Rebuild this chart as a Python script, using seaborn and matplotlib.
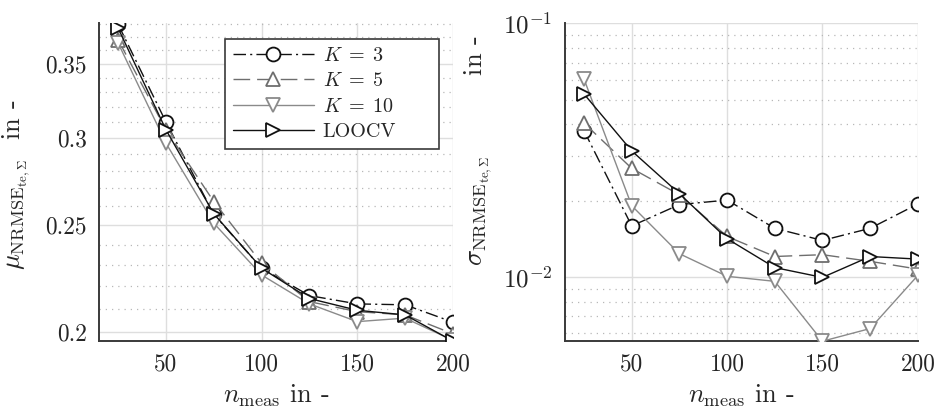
import numpy as np
import pandas as pd
import matplotlib
matplotlib.use("Agg")
import matplotlib.pyplot as plt
from matplotlib.ticker import FixedLocator, FixedFormatter, LogLocator, LogFormatterSciNotation, NullFormatter
import seaborn as sns

# Number of measurements
n_meas = [25, 50, 75, 100, 125, 150, 175, 200]

# Mean NRMSE over the test sets
mu_k3 = [0.380, 0.310, 0.2557, 0.2285, 0.2158, 0.2121, 0.2117, 0.2042]
mu_k5 = [0.368, 0.305, 0.2626, 0.2309, 0.2131, 0.2087, 0.2073, 0.1993]
mu_k10 = [0.3655, 0.2966, 0.2510, 0.2253, 0.2121, 0.2044, 0.2059, 0.1966]
mu_loocv = [0.377, 0.305, 0.2560, 0.2285, 0.2145, 0.2093, 0.2073, 0.1963]

# Standard deviation of NRMSE over the test sets
sd_k3 = [0.0377, 0.0159, 0.0193, 0.0201, 0.01556, 0.01394, 0.01556, 0.0194]
sd_k5 = [0.0404, 0.0268, 0.0211, 0.01445, 0.01205, 0.01225, 0.01153, 0.01075]
sd_k10 = [0.0602, 0.0191, 0.01236, 0.01007, 0.00962, 0.00559, 0.00627, 0.01015]
sd_loocv = [0.0526, 0.0314, 0.0213, 0.01416, 0.0109, 0.00997, 0.01205, 0.01177]

labels = [r"$K\;=\;3$", r"$K\;=\;5$", r"$K\;=\;10$", "LOOCV"]
mu_series = [mu_k3, mu_k5, mu_k10, mu_loocv]
sd_series = [sd_k3, sd_k5, sd_k10, sd_loocv]

styles = [
    dict(color="#111111", marker="o", linestyle=(0, (9, 3, 1.5, 3))),
    dict(color="#6e6e6e", marker="^", linestyle=(0, (12, 5))),
    dict(color="#8a8a8a", marker="v", linestyle="-"),
    dict(color="#111111", marker=">", linestyle="-"),
]

sns.set_style("white")
plt.rcParams.update({
    "font.family": "serif",
    "font.serif": ["cmr10", "DejaVu Serif"],
    "mathtext.fontset": "cm",
    "axes.unicode_minus": False,
    "axes.formatter.use_mathtext": True,
    "font.size": 16,
})

TICK_FS = 16.8
LABEL_FS = 19

fig = plt.figure(figsize=(9.36, 4.08), dpi=100)
ax1 = fig.add_axes([0.1058, 0.1642, 0.378, 0.779])
ax2 = fig.add_axes([0.6036, 0.1642, 0.377, 0.779])


def draw(ax, series):
    for lab, vals, st in zip(labels, series, styles):
        df = pd.DataFrame({"n": n_meas, "v": vals})
        sns.lineplot(data=df, x="n", y="v", ax=ax, label=lab,
                     color=st["color"], marker=st["marker"],
                     linestyle=st["linestyle"], linewidth=1.0,
                     markersize=10, markerfacecolor="white",
                     markeredgecolor=st["color"], markeredgewidth=1.3,
                     zorder=3)


draw(ax1, mu_series)
draw(ax2, sd_series)

for ax in (ax1, ax2):
    ax.set_yscale("log")
    ax.set_xlim(15, 200)
    ax.set_xticks([50, 100, 150, 200])
    ax.set_xticklabels(["50", "100", "150", "200"])
    ax.set_xlabel(r"$n_{\mathrm{meas}}$ in -", fontsize=LABEL_FS, labelpad=5)
    for side in ("top", "right"):
        ax.spines[side].set_visible(False)
    for side in ("left", "bottom"):
        ax.spines[side].set_color("#3a3a3a")
        ax.spines[side].set_linewidth(1.4)
    ax.tick_params(which="major", direction="in", length=5, width=1.0,
                   color="#3a3a3a", labelsize=TICK_FS)
    ax.tick_params(axis="y", which="major", pad=9)
    ax.tick_params(axis="x", which="major", pad=9)
    ax.tick_params(which="minor", direction="in", length=3, width=0.8,
                   color="#3a3a3a")
    ax.tick_params(axis="x", which="minor", length=0)
    ax.grid(True, which="major", color="#dedede", linewidth=1.0, linestyle="-")
    ax.grid(True, which="minor", axis="y", color="#b8b8b8", linewidth=0.9,
            linestyle=(0, (1, 4)))
    ax.set_axisbelow(True)

# Left panel: mean
ax1.set_ylim(0.1963, 0.381)
ax1.yaxis.set_major_locator(FixedLocator([0.2, 0.25, 0.3, 0.35]))
ax1.yaxis.set_major_formatter(FixedFormatter(["0.2", "0.25", "0.3", "0.35"]))
ax1.yaxis.set_minor_locator(FixedLocator([0.21, 0.22, 0.23, 0.24, 0.26, 0.27, 0.28,
                                          0.29, 0.31, 0.32, 0.33, 0.34, 0.36,
                                          0.37, 0.38]))
ax1.yaxis.set_minor_formatter(NullFormatter())
ax1.set_ylabel(r"$\mu_{\mathrm{NRMSE}_{\mathrm{te},\mathit{\Sigma}}}$  in -",
               fontsize=LABEL_FS)
ax1.yaxis.set_label_coords(-0.19, 0.49)

# Legend box stretched to a fixed width in axes coordinates
leg = ax1.legend(loc="upper left", bbox_to_anchor=(0.356, 0.5, 0.604, 0.451),
                 mode="expand", fontsize=14.5,
                 frameon=True, fancybox=False, framealpha=1.0,
                 edgecolor="#3a3a3a", handlelength=4.0, handletextpad=0.45,
                 borderpad=0.4, labelspacing=0.36, borderaxespad=0.0)
leg.get_frame().set_linewidth(1.2)

# Right panel: standard deviation
ax2.set_ylim(0.0056, 0.1)
ax2.yaxis.set_major_locator(LogLocator(base=10))
ax2.yaxis.set_major_formatter(LogFormatterSciNotation(base=10))
ax2.yaxis.set_minor_locator(LogLocator(base=10, subs=np.arange(2, 10)))
ax2.yaxis.set_minor_formatter(NullFormatter())
ax2.tick_params(axis="y", which="major", labelsize=18)
ax2.set_ylabel(r"$\sigma_{\mathrm{NRMSE}_{\mathrm{te},\mathit{\Sigma}}}$         in -",
               fontsize=LABEL_FS)
ax2.yaxis.set_label_coords(-0.2, 0.6)
if ax2.get_legend() is not None:
    ax2.get_legend().remove()

fig.savefig("out.png", dpi=100)
